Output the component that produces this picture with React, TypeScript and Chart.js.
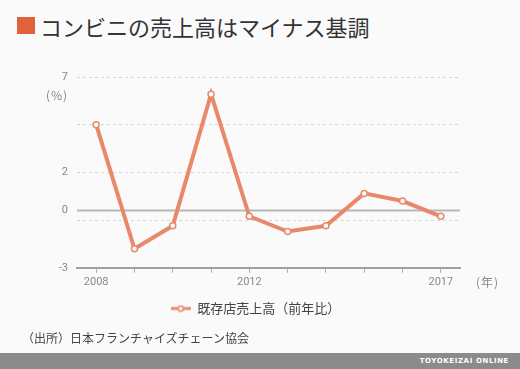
import React, { useEffect, useRef } from "react";
import { Chart, registerables } from "chart.js";

Chart.register(...registerables);

const years = ["2008", "2009", "2010", "2011", "2012", "2013", "2014", "2015", "2016", "2017"];
const sales = [4.5, -2.0, -0.8, 6.1, -0.3, -1.1, -0.8, 0.9, 0.5, -0.3];
const yTickValues = [-3, -0.5, 0, 2, 4.5, 7];
const yLabelValues = [7, 2, 0, -3];
const xLabelYears = ["2008", "2012", "2017"];
const seriesName = "既存店売上高（前年比）";
const titleText = "コンビニの売上高はマイナス基調";
const sourceText = "（出所）日本フランチャイズチェーン協会";

const LINE = "#E8896B";
const FONT = "'Noto Sans CJK JP', 'Noto Sans', sans-serif";
const NUM_FONT = "Roboto, 'Noto Sans CJK JP', sans-serif";

function makeLegendIcon(): HTMLCanvasElement {
  const c = document.createElement("canvas");
  c.width = 20;
  c.height = 8;
  const g = c.getContext("2d")!;
  g.strokeStyle = LINE;
  g.lineWidth = 3;
  g.beginPath();
  g.moveTo(0, 4);
  g.lineTo(20, 4);
  g.stroke();
  g.fillStyle = "#fff";
  g.lineWidth = 1.5;
  g.beginPath();
  g.arc(10, 4, 2.6, 0, Math.PI * 2);
  g.fill();
  g.stroke();
  return c;
}

const zeroLinePlugin = {
  id: "zeroLine",
  beforeDatasetsDraw(chart: any) {
    const { ctx, chartArea, scales } = chart;
    const y = scales.y.getPixelForValue(0);
    ctx.save();
    ctx.strokeStyle = "#b8b8b8";
    ctx.lineWidth = 2;
    ctx.beginPath();
    ctx.moveTo(chartArea.left, y);
    ctx.lineTo(chartArea.right, y);
    ctx.stroke();
    ctx.restore();
  },
};

export default function App() {
  const ref = useRef<HTMLCanvasElement | null>(null);

  useEffect(() => {
    if (!ref.current) return;
    const icon = makeLegendIcon();
    const chart = new Chart(ref.current, {
      type: "line",
      data: {
        labels: years,
        datasets: [
          {
            label: seriesName,
            data: sales,
            borderColor: LINE,
            backgroundColor: "#fff",
            borderWidth: 4,
            pointRadius: 3,
            pointBorderWidth: 1.5,
            pointBackgroundColor: "#fff",
            pointBorderColor: LINE,
            tension: 0,
          },
        ],
      },
      options: {
        animation: false,
        responsive: false,
        maintainAspectRatio: false,
        layout: { padding: { left: 51, right: 60, top: 77, bottom: 5 } },
        scales: {
          x: {
            type: "category",
            offset: true,
            grid: {
              offset: false,
              drawOnChartArea: false,
              drawTicks: true,
              tickLength: 5,
              color: "#aaa",
            },
            border: { color: "#a0a0a0", width: 2 },
            ticks: {
              autoSkip: false,
              maxRotation: 0,
              padding: 3,
              color: "#888",
              font: { family: NUM_FONT, size: 11 },
              callback: (_v: any, i: number) => (xLabelYears.includes(years[i]) ? years[i] : ""),
            },
          },
          y: {
            min: -3,
            max: 7,
            afterBuildTicks: (scale: any) => {
              scale.ticks = yTickValues.map((v) => ({ value: v }));
            },
            afterFit: (scale: any) => {
              scale.width = 26;
            },
            grid: {
              drawTicks: false,
              color: (ctx: any) =>
                ctx.tick && (ctx.tick.value === 0 || ctx.tick.value === -3) ? "rgba(0,0,0,0)" : "#d6d6d6",
              lineWidth: 1,
            },
            border: { display: false, dash: [3, 3] },
            ticks: {
              padding: 9,
              color: "#888",
              font: { family: NUM_FONT, size: 11 },
              callback: (v: any) => (yLabelValues.includes(Number(v)) ? String(v) : ""),
            },
          },
        },
        plugins: {
          tooltip: { enabled: false },
          legend: {
            position: "bottom",
            labels: {
              usePointStyle: true,
              pointStyleWidth: 20,
              padding: 10,
              color: "#444",
              font: { family: FONT, size: 13 },
              generateLabels: () => [
                {
                  text: seriesName,
                  pointStyle: icon,
                  fillStyle: "#fff",
                  strokeStyle: LINE,
                  lineWidth: 0,
                  hidden: false,
                  datasetIndex: 0,
                  fontColor: "#444",
                } as any,
              ],
            },
          },
        },
      },
      plugins: [zeroLinePlugin],
    });
    return () => chart.destroy();
  }, []);

  return (
    <div
      style={{
        position: "absolute",
        left: 0,
        top: 0,
        width: 520,
        height: 369,
        background: "#fafafa",
        overflow: "hidden",
        fontFamily: FONT,
      }}
    >
      <div style={{ position: "absolute", left: 17, top: 17, width: 18, height: 17, background: "#E0623D" }} />
      <div
        style={{
          position: "absolute",
          left: 40,
          top: 9,
          fontSize: 22,
          lineHeight: "34px",
          color: "#333",
          whiteSpace: "nowrap",
        }}
      >
        {titleText}
      </div>
      <canvas ref={ref} width={520} height={330} style={{ position: "absolute", left: 0, top: 0, width: 520, height: 330 }} />
      <div style={{ position: "absolute", left: 46, top: 87, fontSize: 12, lineHeight: "16px", color: "#888", letterSpacing: 1 }}>
        (%)
      </div>
      <div style={{ position: "absolute", left: 476, top: 274, fontSize: 12, lineHeight: "16px", color: "#888", letterSpacing: 1 }}>
        (年)
      </div>
      <div
        style={{
          position: "absolute",
          left: 22,
          top: 329,
          fontSize: 12,
          lineHeight: "18px",
          color: "#444",
          whiteSpace: "nowrap",
        }}
      >
        {sourceText}
      </div>
      <div style={{ position: "absolute", left: 0, top: 353, width: 520, height: 16, background: "#8b8b8b" }}>
        <div
          style={{
            position: "absolute",
            right: 11,
            top: 0,
            fontSize: 7,
            lineHeight: "16px",
            fontWeight: 700,
            color: "#fff",
            letterSpacing: 0.6,
            fontFamily: "'DejaVu Sans', sans-serif",
            whiteSpace: "nowrap",
          }}
        >
          TOYOKEIZAI ONLINE
        </div>
      </div>
    </div>
  );
}
